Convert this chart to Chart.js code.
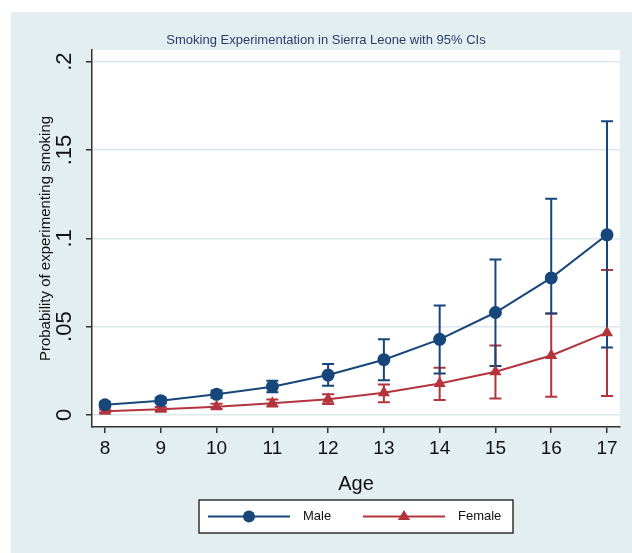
<!DOCTYPE html>
<html><head><meta charset="utf-8">
<script src="https://cdn.jsdelivr.net/npm/chart.js@4/dist/chart.umd.min.js"></script>
<style>html,body{margin:0;padding:0;background:#fff}#wrap{width:632px;height:553px}</style>
</head><body><div id="wrap"><canvas id="c" width="632" height="553"></canvas></div>
<script>
// ---- data ----
const ages = [8, 9, 10, 11, 12, 13, 14, 15, 16, 17];
const maleProb = [0.0058, 0.0081, 0.0117, 0.0160, 0.0226, 0.0313, 0.0428, 0.0580, 0.0776, 0.1020];
const maleLow  = [0.0045, 0.0066, 0.0098, 0.0128, 0.0166, 0.0197, 0.0235, 0.0277, 0.0575, 0.0382];
const maleHigh = [0.0072, 0.0097, 0.0138, 0.0194, 0.0288, 0.0428, 0.0620, 0.0880, 0.1224, 0.1663];
const femaleProb = [0.0021, 0.0032, 0.0047, 0.0066, 0.0089, 0.0126, 0.0178, 0.0245, 0.0337, 0.0466];
const femaleLow  = [0.0014, 0.0022, 0.0034, 0.0048, 0.0062, 0.0072, 0.0085, 0.0094, 0.0103, 0.0107];
const femaleHigh = [0.0031, 0.0045, 0.0063, 0.0088, 0.0117, 0.0173, 0.0267, 0.0394, 0.0575, 0.0821];
const yTickValues = [0, 0.05, 0.1, 0.15, 0.2];
const yTickLabels = ['0', '.05', '.1', '.15', '.2'];
const seriesNames = ['Male', 'Female'];
const chartTitle = 'Smoking Experimentation in Sierra Leone with 95% CIs';
const xAxisTitle = 'Age';
const yAxisTitle = 'Probability of experimenting smoking';

// ---- styles ----
const NAVY = '#17477a';
const RED = '#b3343d';
const FONT = '"Liberation Sans", Arial, Helvetica, sans-serif';

const pts = (vals) => ages.map((a, i) => ({x: a, y: vals[i]}));

const bgPlugin = {
  id: 'bg',
  beforeDraw(chart) {
    const {ctx, chartArea: a} = chart;
    ctx.save();
    ctx.fillStyle = '#ffffff';
    ctx.fillRect(0, 0, chart.width, chart.height);
    ctx.fillStyle = '#e2eef0';
    ctx.fillRect(11, 12, chart.width - 11, chart.height - 12);
    ctx.fillStyle = '#ffffff';
    ctx.fillRect(a.left, a.top, a.right - a.left, a.bottom - a.top);
    ctx.fillStyle = '#2b3d6b';
    ctx.font = '13px ' + FONT;
    ctx.textAlign = 'center';
    ctx.textBaseline = 'middle';
    ctx.fillText(chartTitle, 326, 40);
    ctx.restore();
  }
};

const errPlugin = {
  id: 'errbars',
  beforeDatasetsDraw(chart) {
    const {ctx, scales: {x, y}} = chart;
    const draw = (lo, hi, color) => {
      ctx.save();
      ctx.strokeStyle = color;
      ctx.lineWidth = 2;
      ages.forEach((a, i) => {
        const px = x.getPixelForValue(a);
        const y1 = y.getPixelForValue(lo[i]);
        const y2 = y.getPixelForValue(hi[i]);
        ctx.beginPath();
        ctx.moveTo(px, y1); ctx.lineTo(px, y2);
        ctx.moveTo(px - 6, y1); ctx.lineTo(px + 6, y1);
        ctx.moveTo(px - 6, y2); ctx.lineTo(px + 6, y2);
        ctx.stroke();
      });
      ctx.restore();
    };
    draw(femaleLow, femaleHigh, RED);
    draw(maleLow, maleHigh, NAVY);
  }
};

const legendPlugin = {
  id: 'boxlegend',
  afterDraw(chart) {
    const ctx = chart.ctx;
    ctx.save();
    const bx = 199, by = 500, bw = 314, bh = 33;
    ctx.fillStyle = '#ffffff';
    ctx.fillRect(bx, by, bw, bh);
    ctx.strokeStyle = '#333333';
    ctx.lineWidth = 1.5;
    ctx.strokeRect(bx, by, bw, bh);
    const cy = by + bh / 2;
    // male
    ctx.strokeStyle = NAVY; ctx.lineWidth = 2;
    ctx.beginPath(); ctx.moveTo(208, cy); ctx.lineTo(290, cy); ctx.stroke();
    ctx.fillStyle = NAVY;
    ctx.beginPath(); ctx.arc(249, cy, 6, 0, Math.PI * 2); ctx.fill();
    // female
    ctx.strokeStyle = RED;
    ctx.beginPath(); ctx.moveTo(363, cy); ctx.lineTo(445, cy); ctx.stroke();
    ctx.fillStyle = RED;
    const r = 6.5, tx = 404;
    ctx.beginPath();
    ctx.moveTo(tx, cy - r);
    ctx.lineTo(tx + r * 0.95, cy + r * 0.55);
    ctx.lineTo(tx - r * 0.95, cy + r * 0.55);
    ctx.closePath(); ctx.fill();
    ctx.fillStyle = '#111111';
    ctx.font = '13px ' + FONT;
    ctx.textBaseline = 'middle';
    ctx.textAlign = 'left';
    ctx.fillText(seriesNames[0], 303, cy);
    ctx.fillText(seriesNames[1], 458, cy);
    ctx.restore();
  }
};

new Chart(document.getElementById('c'), {
  type: 'line',
  data: {
    datasets: [
      {label: seriesNames[0], data: pts(maleProb), borderColor: NAVY, backgroundColor: NAVY,
       borderWidth: 2, pointStyle: 'circle', pointRadius: 6.5, pointBorderWidth: 0, tension: 0},
      {label: seriesNames[1], data: pts(femaleProb), borderColor: RED, backgroundColor: RED,
       borderWidth: 2, pointStyle: 'triangle', pointRadius: 7, pointBorderWidth: 0, tension: 0}
    ]
  },
  options: {
    responsive: false,
    devicePixelRatio: 1,
    animation: false,
    layout: {padding: {left: 9, right: 12, top: 50, bottom: 56}},
    plugins: {
      legend: {display: false},
      tooltip: {enabled: false},
      title: {display: false}
    },
    scales: {
      x: {
        type: 'linear', min: 7.767, max: 17.233,
        afterBuildTicks: (s) => { s.ticks = ages.map(v => ({value: v})); },
        afterFit: (s) => { s.height = 70; },
        grid: {drawOnChartArea: false, tickLength: 6, tickColor: '#333333', lineWidth: 1.5},
        border: {color: '#333333', width: 1.5},
        ticks: {font: {family: FONT, size: 19}, color: '#111111', padding: 4,
                callback: (v) => String(v), maxRotation: 0},
        title: {display: true, text: xAxisTitle, color: '#111111',
                font: {family: FONT, size: 20}, padding: {top: 0, bottom: 1}}
      },
      y: {
        type: 'linear', min: -0.0068, max: 0.2066,
        afterBuildTicks: (s) => { s.ticks = yTickValues.map(v => ({value: v})); },
        afterFit: (s) => { s.width = 83; },
        grid: {color: '#dce9ec', lineWidth: 1.5, tickColor: '#333333', tickLength: 6},
        border: {color: '#333333', width: 1.5},
        ticks: {font: {family: FONT, size: 22}, color: '#111111', padding: 6,
                minRotation: 90, maxRotation: 90, crossAlign: 'center',
                callback: (v, i) => yTickLabels[i]},
        title: {display: true, text: yAxisTitle, color: '#111111',
                font: {family: FONT, size: 15}, padding: {top: 28, bottom: 0}}
      }
    }
  },
  plugins: [bgPlugin, errPlugin, legendPlugin]
});
</script>
</body></html>
